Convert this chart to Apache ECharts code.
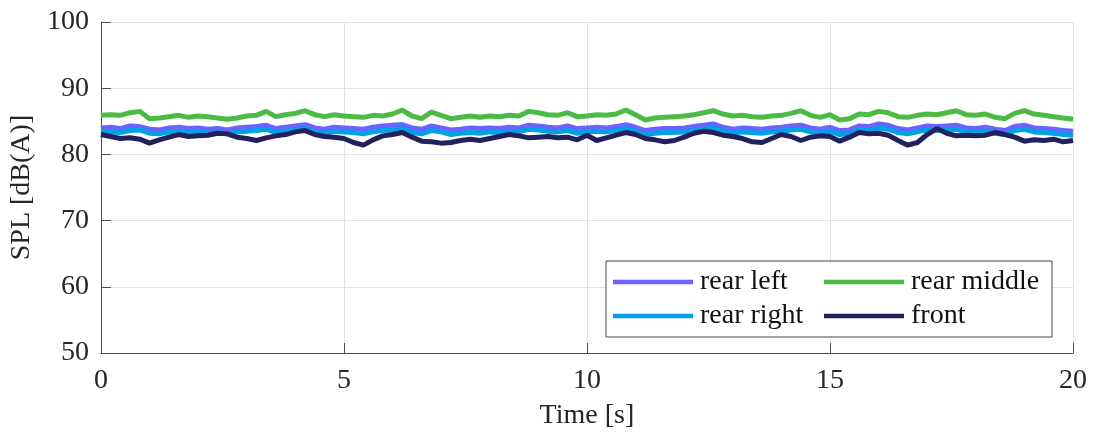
<!DOCTYPE html>
<html>
<head>
<meta charset="utf-8">
<script src="https://cdn.jsdelivr.net/npm/echarts@6/dist/echarts.min.js"></script>
<style>html,body{margin:0;padding:0;background:#fff;}#c{width:1093px;height:435px;}</style>
</head>
<body>
<div id="c"></div>
<script>
const time = [0,0.2,0.4,0.6,0.8,1,1.2,1.4,1.6,1.8,2,2.2,2.4,2.6,2.8,3,3.2,3.4,3.6,3.8,4,4.2,4.4,4.6,4.8,5,
5.2,5.4,5.6,5.8,6,6.2,6.4,6.6,6.8,7,7.2,7.4,7.6,7.8,8,8.2,8.4,8.6,8.8,9,9.2,9.4,9.6,9.8,10,
10.2,10.4,10.6,10.8,11,11.2,11.4,11.6,11.8,12,12.2,12.4,12.6,12.8,13,13.2,13.4,13.6,13.8,14,14.2,14.4,14.6,14.8,15,
15.2,15.4,15.6,15.8,16,16.2,16.4,16.6,16.8,17,17.2,17.4,17.6,17.8,18,18.2,18.4,18.6,18.8,19,19.2,19.4,19.6,19.8,20];

const rearLeft = [84.0,84.1,83.9,84.3,84.2,83.8,83.7,84.0,84.1,83.9,84.0,83.8,83.9,83.7,84.0,84.1,84.2,84.4,83.9,84.1,84.3,84.5,84.0,83.8,84.1,84.0,
83.9,83.8,84.1,84.3,84.4,84.5,84.0,83.8,84.3,84.0,83.7,83.8,84.0,83.9,84.0,83.9,84.1,84.0,84.4,84.3,84.1,84.0,84.3,83.9,84.0,
84.1,84.0,84.2,84.5,84.1,83.6,83.8,83.9,83.9,84.0,84.2,84.4,84.6,84.1,83.8,84.0,83.9,83.8,84.0,84.1,84.3,84.4,84.0,83.8,84.1,
83.6,83.7,84.3,84.2,84.6,84.4,83.9,83.7,84.0,84.3,84.2,84.3,84.4,84.0,83.9,84.1,83.8,83.6,84.2,84.4,84.0,83.9,83.8,83.6,83.5];

const rearMiddle = [85.9,86.0,85.9,86.3,86.5,85.4,85.5,85.7,85.9,85.6,85.8,85.7,85.5,85.3,85.5,85.8,85.9,86.5,85.7,86.0,86.2,86.6,86.0,85.7,86.0,85.8,
85.7,85.6,85.9,85.8,86.1,86.7,85.8,85.4,86.4,85.9,85.4,85.6,85.8,85.6,85.8,85.7,85.9,85.8,86.5,86.3,86.0,85.9,86.3,85.7,85.8,
86.0,85.9,86.1,86.7,86.0,85.2,85.5,85.6,85.7,85.8,86.0,86.3,86.6,86.1,85.8,85.9,85.7,85.6,85.8,85.9,86.2,86.6,85.9,85.6,86.0,
85.2,85.4,86.1,86.0,86.5,86.3,85.7,85.6,85.9,86.1,86.0,86.3,86.6,86.0,85.9,86.1,85.6,85.4,86.2,86.6,86.1,85.9,85.7,85.5,85.3];

const rearRight = [83.5,83.4,83.3,83.6,83.7,83.2,83.1,83.4,83.5,83.3,83.4,83.2,83.3,83.1,83.4,83.5,83.6,83.8,83.3,83.5,83.7,83.9,83.4,83.2,83.5,83.4,
83.3,83.1,83.4,83.6,83.7,83.9,83.3,83.1,83.6,83.4,83.0,83.2,83.3,83.2,83.4,83.3,83.5,83.4,83.8,83.7,83.5,83.4,83.6,83.2,83.4,
83.5,83.4,83.6,83.9,83.5,83.0,83.2,83.3,83.3,83.4,83.6,83.8,84.0,83.5,83.2,83.4,83.3,83.2,83.4,83.5,83.7,83.8,83.4,83.2,83.5,
83.0,83.1,83.7,83.6,84.0,83.8,83.3,83.1,83.4,83.7,83.6,83.7,83.8,83.4,83.3,83.5,83.2,83.0,83.6,83.8,83.4,83.3,83.2,83.0,82.9];

const front = [83.0,82.7,82.4,82.5,82.3,81.7,82.2,82.6,83.0,82.7,82.8,82.9,83.2,83.1,82.6,82.4,82.1,82.5,82.8,83.0,83.4,83.6,83.0,82.7,82.6,82.4,
81.8,81.4,82.2,82.8,83.0,83.3,82.6,82.0,81.9,81.7,81.8,82.1,82.3,82.1,82.4,82.7,83.0,82.8,82.5,82.6,82.7,82.5,82.6,82.2,82.9,
82.1,82.5,82.9,83.3,83.0,82.4,82.2,81.9,82.1,82.6,83.2,83.5,83.3,82.9,82.7,82.4,81.9,81.8,82.4,83.0,82.7,82.1,82.6,82.8,82.7,
82.0,82.6,83.3,83.1,83.2,82.9,82.1,81.4,81.8,83.0,83.9,83.2,82.8,82.9,82.8,82.9,83.3,83.0,82.6,82.0,82.2,82.1,82.3,81.9,82.1];

const seriesNames = ['rear left','rear middle','rear right','front'];
const seriesValues = [rearLeft, rearMiddle, rearRight, front];
const colors = ['#6a63ff','#4cbb45','#03a1e3','#22215e'];
const xTicks = [0,5,10,15,20];
const yTicks = [50,60,70,80,90,100];

const FONT = 'Liberation Serif';
const chart = echarts.init(document.getElementById('c'), null, {renderer:'canvas'});
const series = seriesNames.map((n, k) => ({
  name: n,
  type: 'line',
  showSymbol: false,
  symbol: 'none',
  lineStyle: {width: 5, color: colors[k]},
  itemStyle: {color: colors[k]},
  data: time.map((t, i) => [t, seriesValues[k][i]]),
  z: 2 + k
}));

chart.setOption({
  animation: false,
  backgroundColor: '#fff',
  grid: {left: 100, right: 20, top: 22, bottom: 80, containLabel: false},
  xAxis: {
    type: 'value', min: xTicks[0], max: xTicks[xTicks.length-1], interval: 5,
    name: 'Time [s]', nameLocation: 'middle', nameGap: 49,
    nameTextStyle: {fontFamily: FONT, fontSize: 28, color: '#262626'},
    axisLine: {show: true, lineStyle: {color: '#4d4d4d', width: 1}},
    axisTick: {show: true, inside: true, length: 10, lineStyle: {color: '#4d4d4d'}},
    axisLabel: {fontFamily: FONT, fontSize: 28, color: '#262626', margin: 14},
    splitLine: {show: true, lineStyle: {color: '#e3e3e3', width: 1}}
  },
  yAxis: {
    type: 'value', min: yTicks[0], max: yTicks[yTicks.length-1], interval: 10,
    name: 'SPL [dB(A)]', nameLocation: 'middle', nameGap: 56, nameRotate: 90,
    nameTextStyle: {fontFamily: FONT, fontSize: 28, color: '#262626'},
    axisLine: {show: true, lineStyle: {color: '#4d4d4d', width: 1}},
    axisTick: {show: true, inside: true, length: 10, lineStyle: {color: '#4d4d4d'}},
    axisLabel: {fontFamily: FONT, fontSize: 28, color: '#262626', margin: 12},
    splitLine: {show: true, lineStyle: {color: '#e3e3e3', width: 1}}
  },
  graphic: [{
    type: 'rect', z: 90, silent: true,
    shape: {x: 606, y: 261, width: 446, height: 76},
    style: {fill: '#fff', stroke: '#444', lineWidth: 1}
  }],
  legend: [
    {
      data: [seriesNames[0], seriesNames[2]], orient: 'vertical', left: 613, top: 268,
      padding: 0, itemGap: 6, itemWidth: 80, itemHeight: 14, icon: 'path://M0,0L80,0L80,4.5L0,4.5Z', z: 100,
      textStyle: {fontFamily: FONT, fontSize: 28, color: '#111', padding: [0,0,0,2]}
    },
    {
      data: [seriesNames[1], seriesNames[3]], orient: 'vertical', left: 824, top: 268,
      padding: 0, itemGap: 6, itemWidth: 80, itemHeight: 14, icon: 'path://M0,0L80,0L80,4.5L0,4.5Z', z: 100,
      textStyle: {fontFamily: FONT, fontSize: 28, color: '#111', padding: [0,0,0,2]}
    }
  ],
  series: series
});
</script>
</body>
</html>
